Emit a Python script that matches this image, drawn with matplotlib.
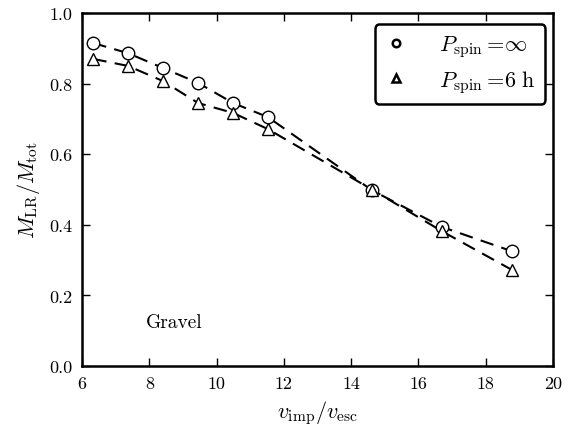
import matplotlib
matplotlib.use("Agg")
import matplotlib.pyplot as plt

plt.rcParams['mathtext.fontset'] = 'cm'
plt.rcParams['font.family'] = 'serif'
plt.rcParams['font.serif'] = ['cmr10', 'DejaVu Serif']
plt.rcParams['axes.formatter.use_mathtext'] = True
plt.rcParams['axes.unicode_minus'] = False

v_ratio = [6.33, 7.37, 8.41, 9.45, 10.49, 11.53, 14.62, 16.70, 18.79]
m_inf = [0.915, 0.886, 0.844, 0.802, 0.745, 0.705, 0.498, 0.394, 0.325]
m_6h = [0.870, 0.850, 0.807, 0.745, 0.717, 0.671, 0.500, 0.382, 0.272]

x_ticks = [6, 8, 10, 12, 14, 16, 18, 20]
y_ticks = [0.0, 0.2, 0.4, 0.6, 0.8, 1.0]

fig = plt.figure(figsize=(5.74, 4.31), dpi=100)
ax = fig.add_axes([0.143, 0.1485, 0.82, 0.819])

for ys in (m_inf, m_6h):
    ax.plot(v_ratio, ys, color='black', lw=1.5, dashes=(6.5, 4.0), zorder=2)

ax.plot(v_ratio, m_inf, 'o', ms=9, mfc='white', mec='black', mew=1.0,
        ls='none', zorder=3, label=r'$P_{\rm spin} = \!\infty$')
ax.plot(v_ratio, m_6h, '^', ms=9, mfc='white', mec='black', mew=1.0,
        ls='none', zorder=3, label=r'$P_{\rm spin} = \!6\ {\rm h}$')

ax.set_xlim(6, 20)
ax.set_ylim(0, 1.0)
ax.set_xticks(x_ticks)
ax.set_yticks(y_ticks)
ax.set_xticklabels([str(t) for t in x_ticks])
ax.set_yticklabels(['%.1f' % t for t in y_ticks])
ax.tick_params(direction='in', length=6, width=1, top=True, right=True,
               labelsize=13, pad=7)
for s in ax.spines.values():
    s.set_linewidth(1.8)

ax.set_xlabel(r'$v_{\rm imp}/v_{\rm esc}$', fontsize=16, labelpad=5)
ax.set_ylabel(r'$M_{\rm LR}/M_{\rm tot}$', fontsize=16, labelpad=5)

ax.text(7.9, 0.125, 'Gravel', fontsize=14, ha='left', va='center')

leg = ax.legend(loc='upper right', numpoints=1, fontsize=16, markerscale=0.6,
                fancybox=True, framealpha=1, edgecolor='black',
                borderpad=0.4, handletextpad=1.4, handlelength=1.1,
                labelspacing=0.4, borderaxespad=0.35,
                bbox_to_anchor=(1.0, 0.99))
leg.get_frame().set_linewidth(1.8)
for h in leg.legend_handles:
    h.set_markeredgewidth(1.8)

fig.savefig('out.png', dpi=100)
